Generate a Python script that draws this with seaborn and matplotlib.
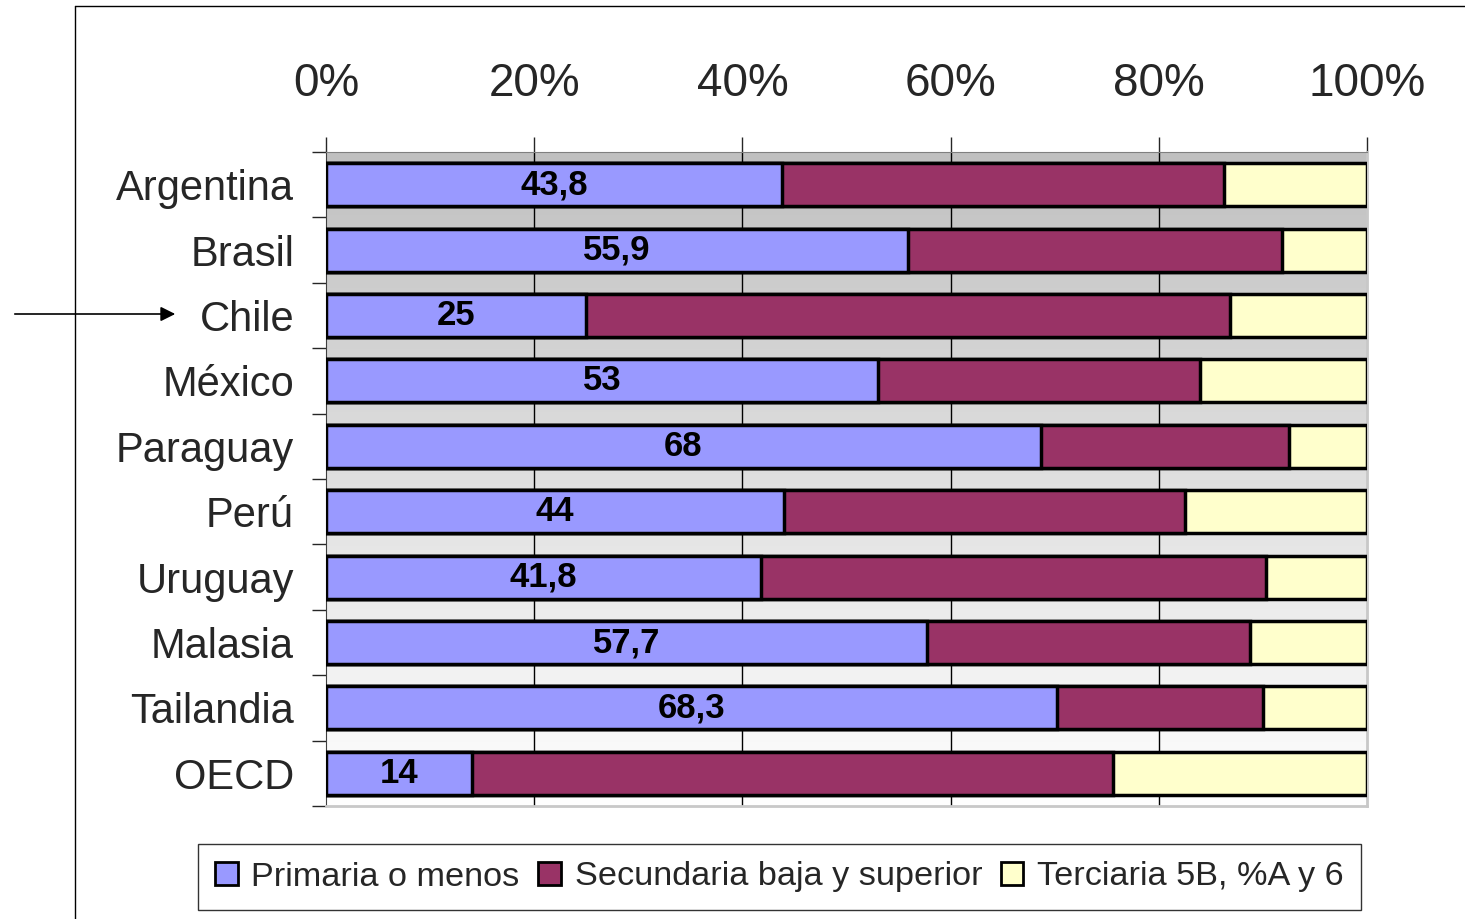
import numpy as np
import pandas as pd
import seaborn as sns
import matplotlib.pyplot as plt
from matplotlib.lines import Line2D
from matplotlib.patches import Patch

# data (first segment values are the printed labels)
paises = ["Argentina", "Brasil", "Chile", "México", "Paraguay",
          "Perú", "Uruguay", "Malasia", "Tailandia", "OECD"]
primaria = [43.8, 55.9, 25, 53, 68, 44, 41.8, 57.7, 68.3, 14]
secundaria = [42.5, 35.9, 61.8, 31, 23.6, 38.5, 48.5, 31.1, 19.3, 61.6]
terciaria = [13.7, 8.2, 13.2, 16, 7.4, 17.5, 9.7, 11.2, 9.7, 24.4]
etiquetas = ["43,8", "55,9", "25", "53", "68", "44", "41,8", "57,7", "68,3", "14"]
series = ["Primaria o menos", "Secundaria baja y superior", "Terciaria 5B, %A y 6"]
colores = ["#9999ff", "#993366", "#ffffcc"]

df = pd.DataFrame({"pais": paises, "p": primaria, "s": secundaria, "t": terciaria})
total = df[["p", "s", "t"]].sum(axis=1)
# 100% stacked: normalise each row, then cumulative ends
df["c1"] = df["p"] / total * 100
df["c2"] = (df["p"] + df["s"]) / total * 100
df["c3"] = 100.0

sns.set_style("white")
plt.rcParams["font.family"] = ["Liberation Sans", "DejaVu Sans"]

fig = plt.figure(figsize=(14.65, 9.19), dpi=100)
ax = fig.add_axes([326 / 1465, 1 - 806 / 919, 1041 / 1465, 654 / 919])

# gradient background of the plot area (gray at top, white at bottom)
grad = np.linspace(0, 1, 256).reshape(-1, 1)
ax.imshow(grad, cmap=sns.blend_palette(["#c0c0c0", "#ffffff"], as_cmap=True),
          extent=[0, 1, 0, 1], transform=ax.transAxes, aspect="auto", zorder=0)

# overlay cumulative bars, longest first
for col, c in zip(["c3", "c2", "c1"], colores[::-1]):
    sns.barplot(data=df, x=col, y="pais", order=paises, orient="h", color=c,
                edgecolor="black", linewidth=2.5, width=0.66, saturation=1,
                ax=ax, zorder=3)

ax.bar_label(ax.containers[-1], labels=etiquetas, label_type="center",
             fontsize=25, fontweight="bold", color="black")

ax.set_xlim(0, 100)
ax.set_ylim(9.5, -0.5)
ax.set_xlabel("")
ax.set_ylabel("")

ax.xaxis.tick_top()
ax.set_xticks(np.arange(0, 101, 20))
ax.set_xticklabels([f"{v}%" for v in range(0, 101, 20)], fontsize=33)
ax.tick_params(axis="x", length=11, width=1, pad=22, direction="out", top=True)
for v in [20, 40, 60, 80]:
    ax.axvline(v, color="black", lw=1, zorder=1)

ax.set_yticks(range(len(paises)))
ax.set_yticklabels(paises, fontsize=30)
ax.set_yticks(np.arange(-0.5, 10, 1), minor=True)
ax.tick_params(axis="y", which="major", length=0, pad=23, left=True)
ax.tick_params(axis="y", which="minor", length=10, width=1, direction="out", left=True)

ax.spines["left"].set_color("#404040")
ax.spines["top"].set_color("#808080")
ax.spines["right"].set_color("#c8c8c8")
ax.spines["bottom"].set_color("#c8c8c8")
ax.spines["right"].set_linewidth(2)
ax.spines["bottom"].set_linewidth(2)

handles = [Patch(facecolor=c, edgecolor="black", linewidth=2) for c in colores]
leg = fig.legend(handles, series, loc="center", bbox_to_anchor=(779.5 / 1465, 1 - 877 / 919),
                 ncol=3, fontsize=24.7, frameon=True, fancybox=False, edgecolor="black",
                 handlelength=0.65, handleheight=0.65, handletextpad=0.4,
                 columnspacing=0.55, borderpad=0.5)
leg.get_frame().set_linewidth(1)

# arrow pointing at Chile and the outer frame of the page
ax.annotate("", xy=(178 / 1465, 1 - 314 / 919), xytext=(12 / 1465, 1 - 314 / 919),
            xycoords="figure fraction",
            arrowprops=dict(arrowstyle="-|>", color="black", lw=1.2, mutation_scale=22))
fig.add_artist(Line2D([75 / 1465, 75 / 1465], [0, 1 - 6 / 919], color="black", lw=1))
fig.add_artist(Line2D([75 / 1465, 1], [1 - 6 / 919, 1 - 6 / 919], color="black", lw=1))

fig.savefig("out.png", dpi=100)
